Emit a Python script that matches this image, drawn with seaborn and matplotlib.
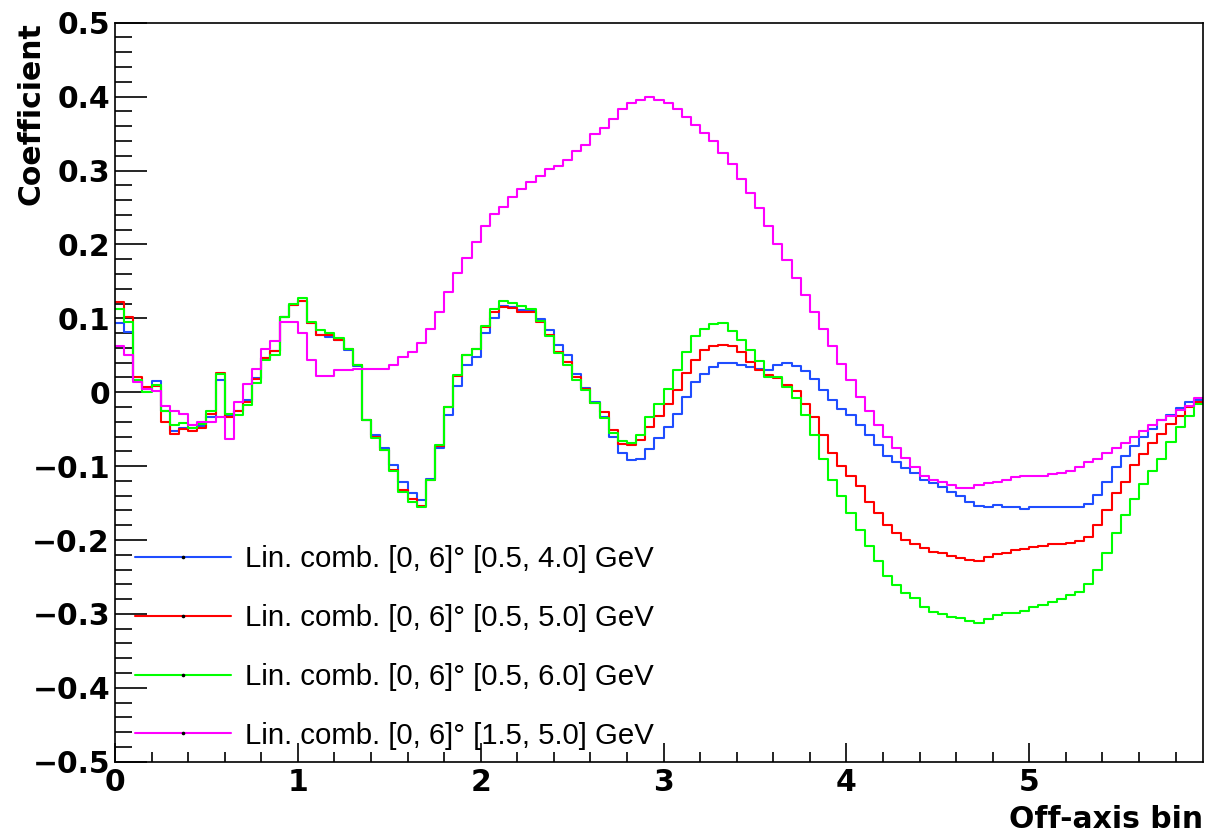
import numpy as np
import pandas as pd
import matplotlib
matplotlib.use("Agg")
import matplotlib.pyplot as plt
import seaborn as sns
from matplotlib.lines import Line2D
from matplotlib.ticker import MultipleLocator
from matplotlib.font_manager import FontProperties

# Off-axis binning: 119 bins of width 0.05
bin_width = 0.05
n_bins = 119

coef_05_40 = [
    0.093, 0.082, 0.016, 0.005, 0.015, -0.026, -0.053, -0.049, -0.048, -0.046,
    -0.033, 0.017, -0.032, -0.026, -0.010, 0.019, 0.046, 0.056, 0.102, 0.118,
    0.123, 0.094, 0.077, 0.075, 0.070, 0.057, 0.035, -0.038, -0.058, -0.075,
    -0.098, -0.121, -0.137, -0.146, -0.117, -0.076, -0.031, 0.008, 0.037, 0.047,
    0.080, 0.100, 0.116, 0.115, 0.111, 0.110, 0.099, 0.084, 0.064, 0.050,
    0.025, 0.006, -0.013, -0.033, -0.060, -0.082, -0.092, -0.090, -0.077, -0.062,
    -0.047, -0.029, -0.007, 0.014, 0.025, 0.034, 0.040, 0.040, 0.037, 0.034,
    0.032, 0.030, 0.037, 0.040, 0.035, 0.029, 0.018, 0.003, -0.011, -0.023,
    -0.031, -0.044, -0.058, -0.071, -0.087, -0.094, -0.102, -0.110, -0.119, -0.123,
    -0.128, -0.135, -0.140, -0.148, -0.154, -0.155, -0.152, -0.155, -0.155, -0.158,
    -0.156, -0.156, -0.156, -0.156, -0.156, -0.155, -0.151, -0.139, -0.121, -0.101,
    -0.087, -0.073, -0.060, -0.050, -0.038, -0.031, -0.022, -0.013, -0.010,
]

coef_05_50 = [
    0.122, 0.102, 0.021, 0.007, 0.008, -0.040, -0.057, -0.050, -0.053, -0.049,
    -0.029, 0.026, -0.033, -0.026, -0.013, 0.018, 0.046, 0.056, 0.102, 0.118,
    0.123, 0.093, 0.077, 0.078, 0.071, 0.058, 0.037, -0.038, -0.060, -0.078,
    -0.105, -0.132, -0.145, -0.154, -0.119, -0.073, -0.020, 0.022, 0.050, 0.059,
    0.088, 0.109, 0.115, 0.114, 0.109, 0.109, 0.095, 0.078, 0.055, 0.041,
    0.021, 0.005, -0.014, -0.027, -0.051, -0.070, -0.071, -0.065, -0.047, -0.032,
    -0.016, 0.003, 0.026, 0.044, 0.057, 0.062, 0.064, 0.062, 0.055, 0.041,
    0.030, 0.023, 0.019, 0.010, 0.001, -0.016, -0.034, -0.058, -0.082, -0.100,
    -0.113, -0.127, -0.148, -0.164, -0.180, -0.191, -0.200, -0.205, -0.211, -0.216,
    -0.218, -0.221, -0.224, -0.227, -0.228, -0.223, -0.219, -0.217, -0.214, -0.212,
    -0.210, -0.208, -0.206, -0.205, -0.204, -0.202, -0.196, -0.180, -0.160, -0.137,
    -0.121, -0.099, -0.083, -0.069, -0.056, -0.043, -0.032, -0.020, -0.013,
]

coef_05_60 = [
    0.113, 0.095, 0.017, 0.000, 0.010, -0.026, -0.045, -0.042, -0.049, -0.043,
    -0.026, 0.025, -0.030, -0.031, -0.017, 0.012, 0.044, 0.050, 0.102, 0.120,
    0.127, 0.095, 0.084, 0.080, 0.073, 0.059, 0.037, -0.038, -0.062, -0.078,
    -0.107, -0.135, -0.149, -0.155, -0.119, -0.072, -0.020, 0.023, 0.050, 0.059,
    0.090, 0.113, 0.124, 0.121, 0.116, 0.113, 0.097, 0.076, 0.053, 0.037,
    0.016, 0.003, -0.015, -0.035, -0.055, -0.066, -0.069, -0.058, -0.033, -0.016,
    0.005, 0.030, 0.054, 0.076, 0.085, 0.092, 0.093, 0.083, 0.071, 0.057,
    0.042, 0.021, 0.021, 0.007, -0.008, -0.031, -0.058, -0.090, -0.119, -0.141,
    -0.163, -0.186, -0.208, -0.229, -0.249, -0.261, -0.272, -0.279, -0.290, -0.297,
    -0.300, -0.304, -0.306, -0.309, -0.312, -0.307, -0.301, -0.299, -0.299, -0.296,
    -0.290, -0.288, -0.284, -0.280, -0.275, -0.270, -0.259, -0.240, -0.217, -0.191,
    -0.166, -0.145, -0.124, -0.106, -0.090, -0.067, -0.047, -0.032, -0.016,
]

coef_15_50 = [
    0.062, 0.050, 0.014, 0.005, 0.002, -0.018, -0.026, -0.029, -0.045, -0.041,
    -0.041, -0.034, -0.064, -0.013, 0.011, 0.032, 0.058, 0.069, 0.095, 0.095,
    0.080, 0.043, 0.022, 0.022, 0.030, 0.030, 0.031, 0.031, 0.031, 0.032,
    0.037, 0.048, 0.055, 0.066, 0.085, 0.108, 0.135, 0.161, 0.182, 0.203,
    0.225, 0.241, 0.251, 0.264, 0.275, 0.284, 0.293, 0.302, 0.306, 0.314,
    0.327, 0.335, 0.349, 0.357, 0.370, 0.383, 0.391, 0.396, 0.399, 0.396,
    0.391, 0.383, 0.373, 0.362, 0.351, 0.340, 0.324, 0.309, 0.288, 0.269,
    0.249, 0.225, 0.201, 0.179, 0.155, 0.131, 0.109, 0.085, 0.062, 0.038,
    0.016, -0.007, -0.026, -0.045, -0.061, -0.076, -0.089, -0.101, -0.114, -0.119,
    -0.122, -0.126, -0.129, -0.129, -0.126, -0.123, -0.121, -0.119, -0.115, -0.113,
    -0.113, -0.113, -0.111, -0.109, -0.106, -0.101, -0.095, -0.090, -0.082, -0.076,
    -0.069, -0.061, -0.053, -0.044, -0.038, -0.032, -0.024, -0.019, -0.008,
]

series_labels = [
    "Lin. comb. [0, 6]\u00b0 [0.5, 4.0] GeV",
    "Lin. comb. [0, 6]\u00b0 [0.5, 5.0] GeV",
    "Lin. comb. [0, 6]\u00b0 [0.5, 6.0] GeV",
    "Lin. comb. [0, 6]\u00b0 [1.5, 5.0] GeV",
]
series_colors = ["#1f4dff", "#ff0000", "#00ff00", "#ff00ff"]

x_ticks = [0, 1, 2, 3, 4, 5]
x_tick_labels = ["0", "1", "2", "3", "4", "5"]
y_ticks = [-0.5, -0.4, -0.3, -0.2, -0.1, 0.0, 0.1, 0.2, 0.3, 0.4, 0.5]
y_tick_labels = ["\u22120.5", "\u22120.4", "\u22120.3", "\u22120.2", "\u22120.1",
                 "0", "0.1", "0.2", "0.3", "0.4", "0.5"]

sns.set_style("ticks")
plt.rcParams["font.family"] = ["DejaVu Sans"]
plt.rcParams.update({
    "text.color": "black",
    "axes.labelcolor": "black",
    "xtick.color": "black",
    "ytick.color": "black",
    "axes.edgecolor": "black",
})

W, H = 1206, 836
fig = plt.figure(figsize=(W / 100, H / 100), dpi=100)
left, right, top, bottom = 115, 1203, 22.7, 761.7
ax = fig.add_axes([left / W, 1 - bottom / H, (right - left) / W, (bottom - top) / H])

# Long-form table of step outlines (last value repeated at the upper edge)
edges = np.arange(n_bins + 1) * bin_width
frames = []
for label, vals in zip(series_labels, [coef_05_40, coef_05_50, coef_05_60, coef_15_50]):
    v = np.asarray(vals, dtype=float)
    frames.append(pd.DataFrame({"bin": edges, "coef": np.append(v, v[-1]), "series": label}))
df = pd.concat(frames, ignore_index=True)

sns.lineplot(data=df, x="bin", y="coef", hue="series", hue_order=series_labels,
             palette=dict(zip(series_labels, series_colors)), estimator=None,
             drawstyle="steps-post", lw=1.5, legend=False, ax=ax)

ax.set_xlim(0, n_bins * bin_width)
ax.set_ylim(-0.5, 0.5)
ax.set_xticks(x_ticks)
ax.set_xticklabels(x_tick_labels)
ax.set_yticks(y_ticks)
ax.set_yticklabels(y_tick_labels)
ax.xaxis.set_minor_locator(MultipleLocator(0.2))
ax.yaxis.set_minor_locator(MultipleLocator(0.02))

for s in ax.spines.values():
    s.set_visible(True)
    s.set_linewidth(1.2)
    s.set_color("black")

ax.tick_params(which="both", direction="in", bottom=True, left=True, top=False, right=False,
               width=1.2, color="black", labelcolor="black")
ax.tick_params(axis="x", which="major", length=13.5, pad=4.5)
ax.tick_params(axis="x", which="minor", length=7)
ax.tick_params(axis="y", which="major", length=23, pad=3.6)
ax.tick_params(axis="y", which="minor", length=12)
for lab in ax.get_xticklabels() + ax.get_yticklabels():
    lab.set_fontsize(21.5)
    lab.set_fontweight("bold")

ax.set_xlabel("Off-axis bin", fontsize=21.5, fontweight="bold", loc="right", color="black")
ax.set_ylabel("Coefficient", fontsize=21.5, fontweight="bold", loc="top", color="black")
ax.xaxis.set_label_coords(1.0, -0.059)
ax.yaxis.set_label_coords(-0.064, 1.0)

handles = [Line2D([0], [0], color=c, lw=1.5, marker="o", markersize=1.6,
                  markerfacecolor="black", markeredgecolor="black") for c in series_colors]
leg = ax.legend(handles, series_labels, loc="upper left",
                bbox_to_anchor=(135 / W, 1 - 545 / H), bbox_transform=fig.transFigure,
                frameon=False, prop=FontProperties(family="Liberation Sans", size=21.2),
                handlelength=3.25, handletextpad=0.5, labelspacing=1.05,
                borderpad=0, borderaxespad=0, numpoints=1)
for t in leg.get_texts():
    t.set_color("black")

fig.savefig("out.png", dpi=100)
